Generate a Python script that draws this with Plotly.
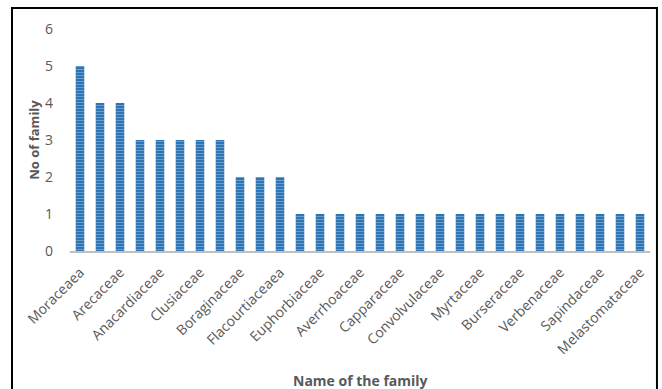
import plotly.graph_objects as go

labels = ["Moraceaea", "Arecaceae", "Anacardiaceae", "Clusiaceae", "Boraginaceae",
          "Flacourtiaceaea", "Euphorbiaceae", "Averrhoaceae", "Capparaceae",
          "Convolvulaceae", "Myrtaceae", "Burseraceae", "Verbenaceae",
          "Sapindaceae", "Melastomataceae"]
values = [5, 4, 4, 3, 3, 3, 3, 3, 2, 2, 2,
          1, 1, 1, 1, 1, 1, 1, 1, 1, 1, 1, 1, 1, 1, 1, 1, 1, 1]
positions = list(range(len(values)))
label_positions = positions[::2]

fig = go.Figure(go.Bar(
    x=positions, y=values,
    marker=dict(color="#2e75b6", line=dict(width=0),
                pattern=dict(shape="-", fgcolor="#cfe0f0", size=3, solidity=0.25,
                             fillmode="overlay")),
    width=0.43,
))

font = "Open Sans"
fig.update_layout(
    width=662, height=389,
    margin=dict(l=70, r=12, t=29, b=138),
    paper_bgcolor="white", plot_bgcolor="white",
    showlegend=False,
    font=dict(family=font, color="#595959"),
    xaxis=dict(range=[-0.5, len(values) - 0.5], tickmode="array",
               tickvals=label_positions, ticktext=labels, tickangle=-45,
               tickfont=dict(size=14, color="#595959"),
               ticklabelstandoff=6,
               showline=True, linecolor="#bfbfbf", linewidth=1.5,
               showgrid=False, ticks="", zeroline=False),
    yaxis=dict(range=[0, 6], dtick=1, showgrid=False, zeroline=False,
               showline=False, ticks="", tickfont=dict(size=14, color="#595959"),
               ticklabelstandoff=16,
               title=dict(text="<b>No of family</b>", font=dict(size=13, color="#595959"),
                          standoff=2)),
    shapes=[dict(type="rect", xref="paper", yref="paper",
                 x0=-0.1, x1=1.012, y0=-0.65, y1=1.095,
                 line=dict(color="black", width=2), fillcolor="rgba(0,0,0,0)")],
    annotations=[dict(text="<b>Name of the family</b>", xref="paper", yref="paper",
                      x=0.5, y=(251 - 380) / 222, showarrow=False,
                      font=dict(size=14, color="#595959"), xanchor="center", yanchor="middle")],
)

fig.write_html("out.html")
